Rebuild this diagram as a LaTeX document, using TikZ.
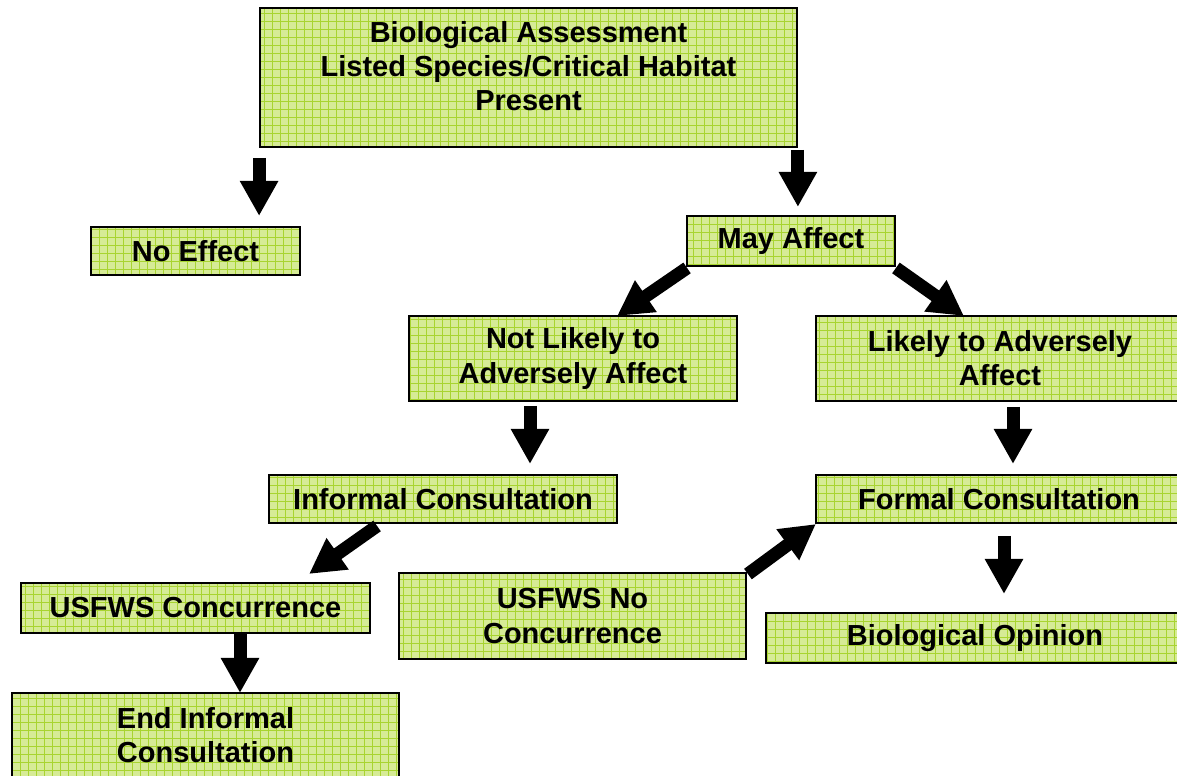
\documentclass[tikz,border=0pt]{standalone}
\usepackage{fontspec}
\setmainfont{Liberation Sans}
\usetikzlibrary{arrows.meta}
\definecolor{boxgreen}{RGB}{214,235,150}
\definecolor{gridgreen}{RGB}{168,212,48}

\begin{document}
\begin{tikzpicture}[x=0.02cm,y=-0.02cm,
    box/.style={draw=black,line width=1.1pt,fill=boxgreen,inner sep=0pt,align=center,
      font=\fontsize{16.5}{19.5}\selectfont\bfseries,
      path picture={\draw[gridgreen,line width=0.5pt] (path picture bounding box.south west)
        grid[step=0.16cm] (path picture bounding box.north east);}},
    blockarrow/.style={line width=0.26cm,-{Triangle[length=0.7cm,width=0.72cm]}}]
  \clip (0,0) rectangle (1177,776);
  % boxes
  \node[box,minimum width=10.74cm,minimum height=2.78cm] (ba) at (528.5,77.5)
    {Biological Assessment\\Listed Species/Critical Habitat\\Present\\[-0.23cm]\mbox{}};
  \node[box,minimum width=4.18cm,minimum height=0.96cm] (noeff) at (195.5,251) {No Effect};
  \node[box,minimum width=4.16cm,minimum height=1cm] (may) at (791,241) {May Affect};
  \node[box,minimum width=6.56cm,minimum height=1.7cm] (nlaa) at (573,358.5) {Not Likely to\\Adversely Affect};
  \node[box,minimum width=7.36cm,minimum height=1.7cm] (laa) at (1000,358.5) {Likely to Adversely\\Affect};
  \node[box,minimum width=6.96cm,minimum height=0.96cm] (inf) at (443,499) {Informal Consultation};
  \node[box,minimum width=7.32cm,minimum height=0.96cm] (formal) at (999,499) {Formal Consultation};
  \node[box,minimum width=6.98cm,minimum height=1cm] (conc) at (195.5,608) {USFWS Concurrence};
  \node[box,minimum width=6.94cm,minimum height=1.72cm] (nocon) at (572.5,616) {USFWS No\\Concurrence};
  \node[box,minimum width=8.36cm,minimum height=1cm] (bioop) at (975,638) {Biological Opinion};
  \node[box,minimum width=7.74cm,minimum height=1.68cm] (endinf) at (205.5,735) {End Informal\\Consultation};
  % arrows
  \draw[blockarrow] (ba.south west) ++(0,10) -- ++(0,58);
  \draw[blockarrow] (ba.south east) ++(0,2) -- ++(0,57);
  \draw[blockarrow] (may.south west) ++(1,1) -- ++(-70,48);
  \draw[blockarrow] (may.south east) ++(0,1) -- ++(68,48);
  \draw[blockarrow] (nlaa.south) ++(-43,4) -- ++(0,58);
  \draw[blockarrow] (laa.south) ++(13,5) -- ++(0,57);
  \draw[blockarrow] (inf.south west) ++(109,2) -- ++(-68,48);
  \draw[blockarrow] (conc.south) ++(44.5,0) -- ++(0,59);
  \draw[blockarrow] (nocon.north east) ++(1,2) -- ++(68,-50);
  \draw[blockarrow] (formal.south) ++(5,12) -- ++(0,58);
\end{tikzpicture}
\end{document}
